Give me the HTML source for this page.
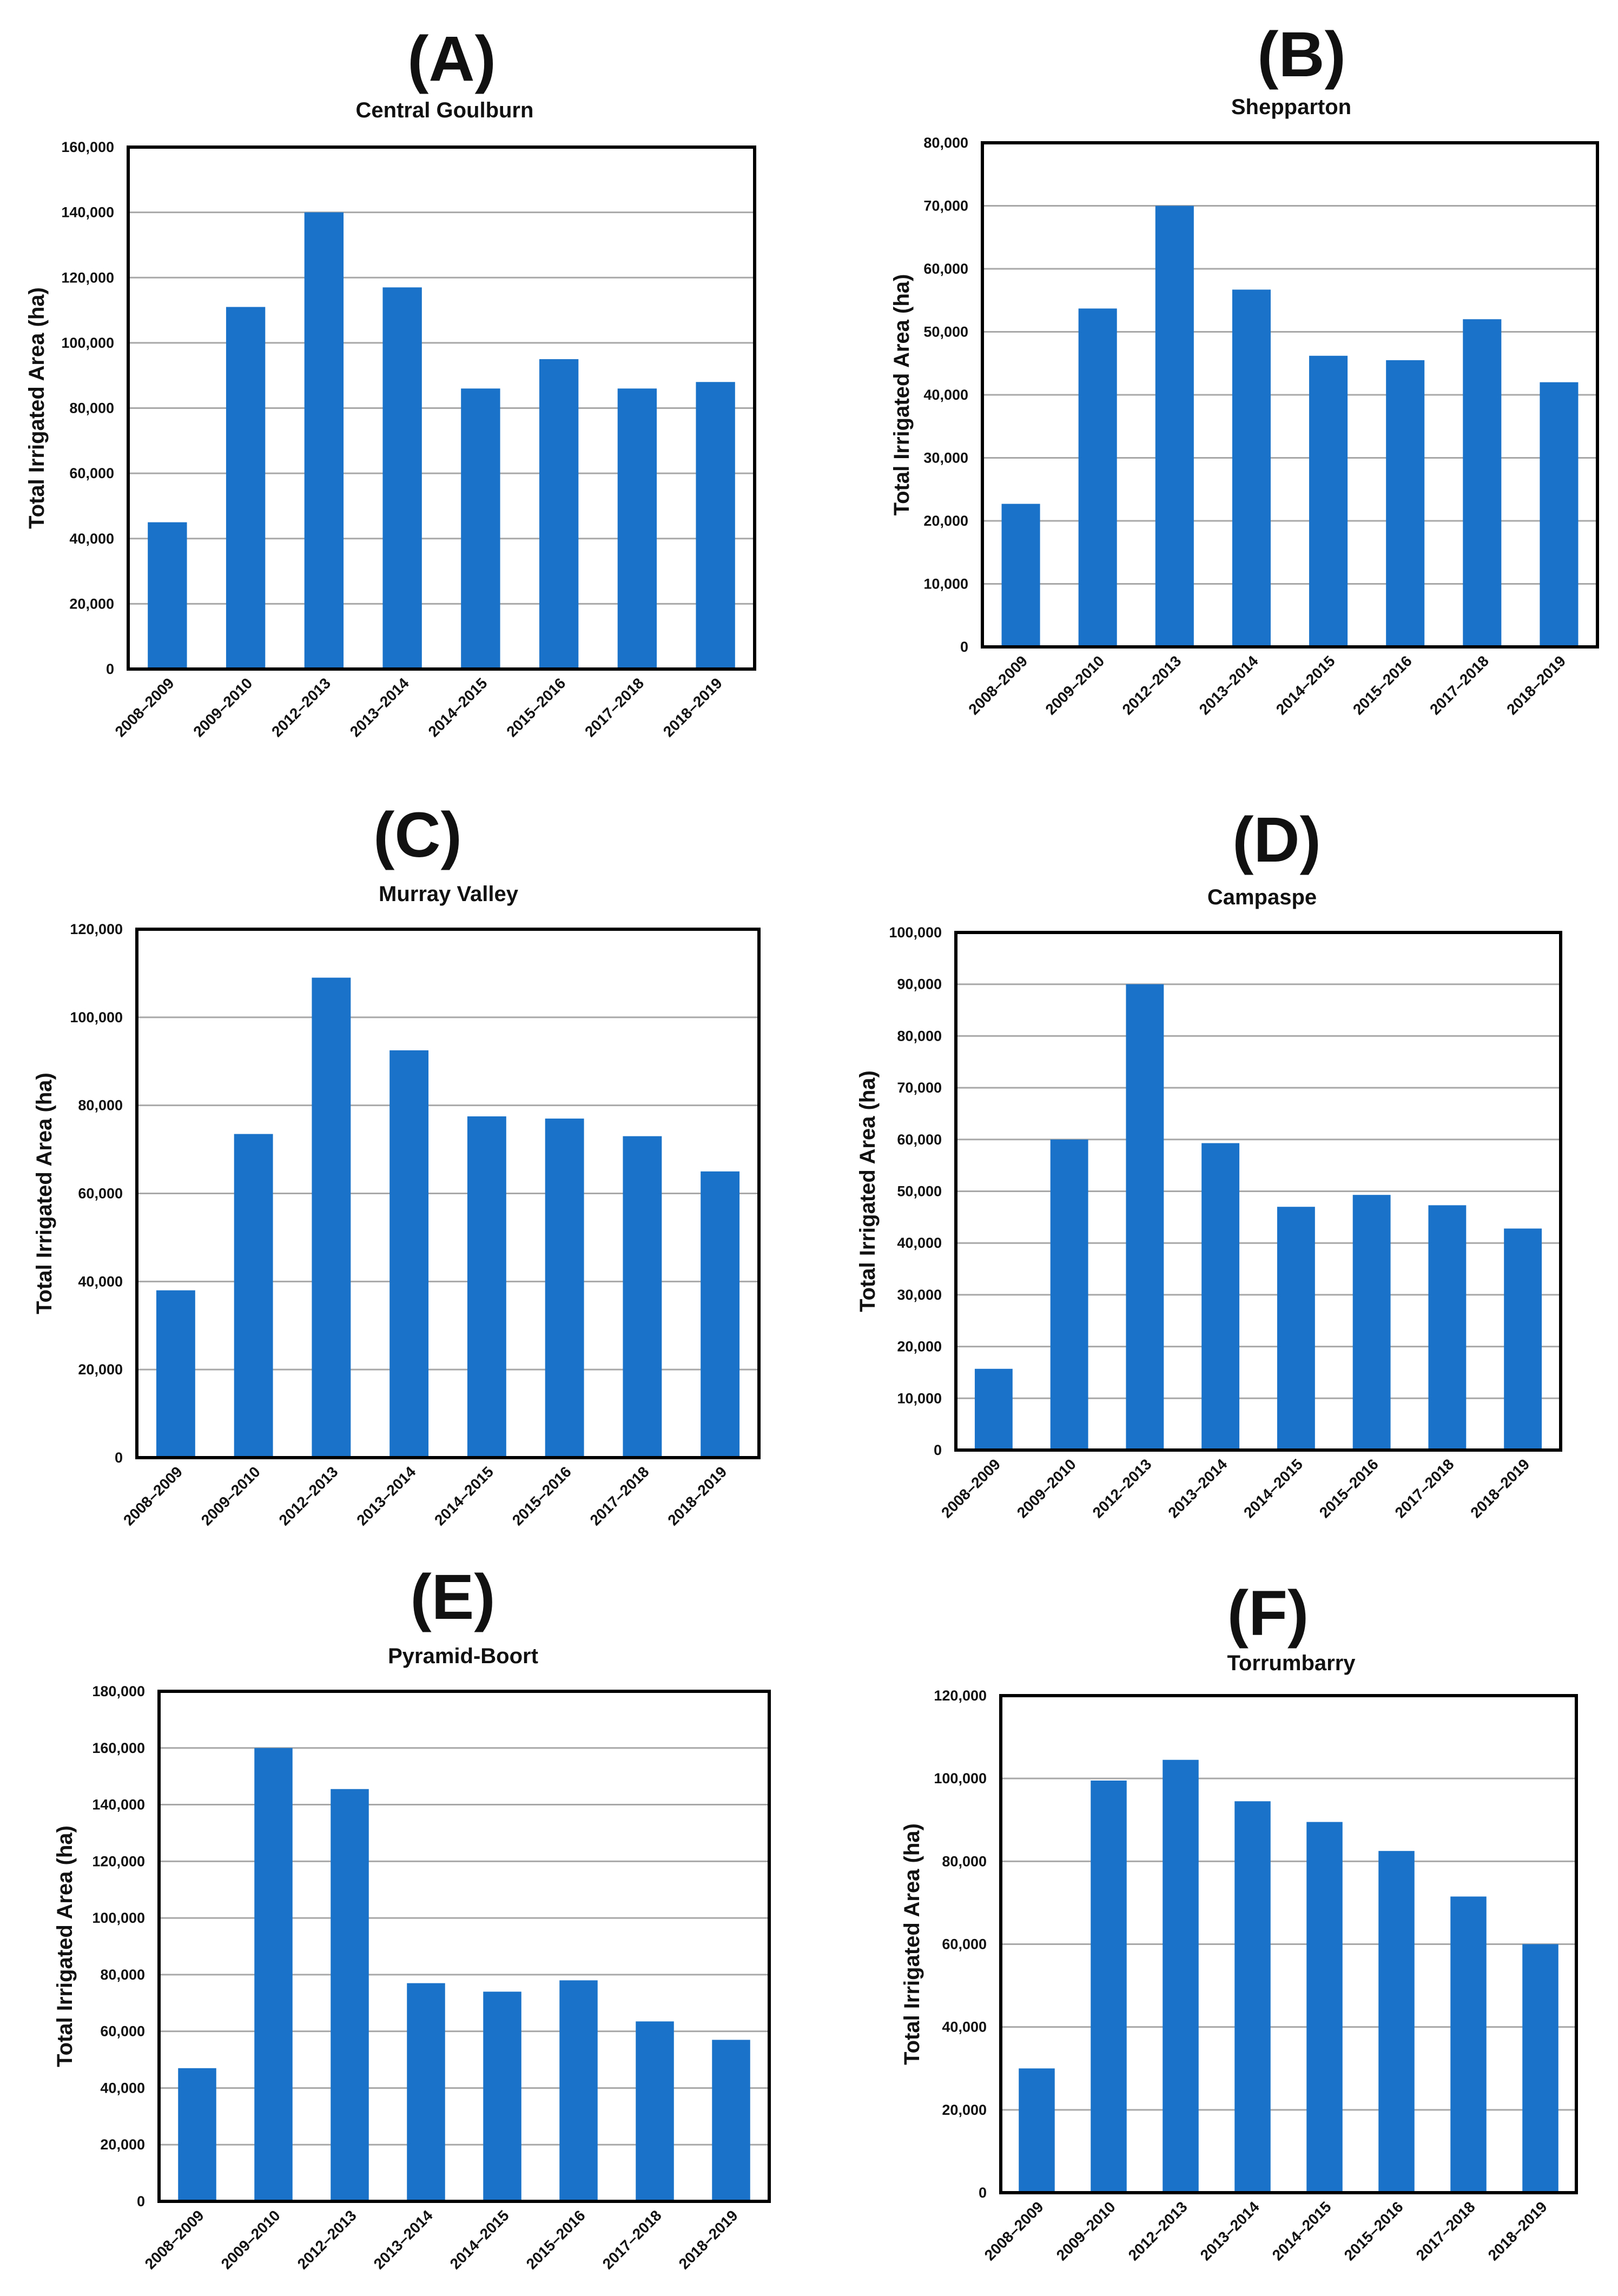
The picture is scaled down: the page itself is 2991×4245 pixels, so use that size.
<!DOCTYPE html>
<html><head><meta charset="utf-8">
<style>
html,body{margin:0;padding:0;background:#fff;}
svg{display:block;}
text{font-family:"Liberation Sans",Arial,sans-serif;font-weight:bold;fill:#111;}
</style></head>
<body>
<svg id="fig" width="2991" height="4245" viewBox="0 0 2991 4245" xmlns="http://www.w3.org/2000/svg"></svg>
<script>
const categories = ["2008–2009","2009–2010","2012–2013","2013–2014","2014–2015","2015–2016","2017–2018","2018–2019"];
const valuesA = [45000,111000,140000,117000,86000,95000,86000,88000];
const valuesB = [22700,53700,70000,56700,46200,45500,52000,42000];
const valuesC = [38000,73500,109000,92500,77500,77000,73000,65000];
const valuesD = [15700,60000,90000,59300,47000,49300,47300,42800];
const valuesE = [47000,160000,145500,77000,74000,78000,63500,57000];
const valuesF = [30000,99500,104500,94500,89500,82500,71500,60000];
const ticksA = ["0","20,000","40,000","60,000","80,000","100,000","120,000","140,000","160,000"];
const ticksB = ["0","10,000","20,000","30,000","40,000","50,000","60,000","70,000","80,000"];
const ticksC = ["0","20,000","40,000","60,000","80,000","100,000","120,000"];
const ticksD = ["0","10,000","20,000","30,000","40,000","50,000","60,000","70,000","80,000","90,000","100,000"];
const ticksE = ["0","20,000","40,000","60,000","80,000","100,000","120,000","140,000","160,000","180,000"];
const ticksF = ["0","20,000","40,000","60,000","80,000","100,000","120,000"];
const tickValuesA = [0,20000,40000,60000,80000,100000,120000,140000,160000];
const tickValuesB = [0,10000,20000,30000,40000,50000,60000,70000,80000];
const tickValuesC = [0,20000,40000,60000,80000,100000,120000];
const tickValuesD = [0,10000,20000,30000,40000,50000,60000,70000,80000,90000,100000];
const tickValuesE = [0,20000,40000,60000,80000,100000,120000,140000,160000,180000];
const tickValuesF = [0,20000,40000,60000,80000,100000,120000];

const NS="http://www.w3.org/2000/svg";
const svg=document.getElementById('fig');
function mk(tag,attrs,parent){const e=document.createElementNS(NS,tag);for(const k in attrs)e.setAttribute(k,attrs[k]);(parent||svg).appendChild(e);return e;}

const panels=[
 {id:"a",letter:"(A)",name:"Central Goulburn",vals:valuesA,ticks:ticksA,tv:tickValuesA,x0:237,x1:1395,y0:272,y1:1237,tcx:835,ty:109,scx:822,sy:204,ytx:68},
 {id:"b",letter:"(B)",name:"Shepparton",vals:valuesB,ticks:ticksB,tv:tickValuesB,x0:1816,x1:2953,y0:264,y1:1196,tcx:2406,ty:101,scx:2387,sy:198,ytx:1667},
 {id:"c",letter:"(C)",name:"Murray Valley",vals:valuesC,ticks:ticksC,tv:tickValuesC,x0:253,x1:1403,y0:1718,y1:2695,tcx:772,ty:1544,scx:829,sy:1653,ytx:82},
 {id:"d",letter:"(D)",name:"Campaspe",vals:valuesD,ticks:ticksD,tv:tickValuesD,x0:1767,x1:2885,y0:1724,y1:2681,tcx:2360,ty:1553,scx:2333,sy:1659,ytx:1604},
 {id:"e",letter:"(E)",name:"Pyramid-Boort",vals:valuesE,ticks:ticksE,tv:tickValuesE,x0:294,x1:1422,y0:3127,y1:4070,tcx:837,ty:2953,scx:856,sy:3062,ytx:120},
 {id:"f",letter:"(F)",name:"Torrumbarry",vals:valuesF,ticks:ticksF,tv:tickValuesF,x0:1850,x1:2914,y0:3135,y1:4054,tcx:2344,ty:2983,scx:2387,sy:3075,ytx:1686}
];

panels.forEach(p=>{
  const g=mk('g',{});
  
  
  const ymax=p.tv[p.tv.length-1];
  const yScale=v=>p.y1-(v/ymax)*(p.y1-p.y0);
  const slot=(p.x1-p.x0)/categories.length;
  const xCenter=i=>p.x0+slot*(i+0.5);

  const t=mk('text',{x:p.tcx,y:p.ty,'font-size':118,'text-anchor':'middle','dominant-baseline':'central'},g);
  t.textContent=p.letter;
  
  
  const s=mk('text',{x:p.scx,y:p.sy,'font-size':40,'text-anchor':'middle','dominant-baseline':'central'},g);
  s.textContent=p.name;
  
  

  p.tv.forEach((v,i)=>{
    const y=yScale(v);
    if(i>0&&i<p.tv.length-1){
      const gl=mk('line',{x1:p.x0,x2:p.x1,y1:y,y2:y,stroke:'#a8a8a8','stroke-width':3},g);
      
      
    }
    const tl=mk('text',{x:p.x0-26,y:y,'font-size':27,'text-anchor':'end','dominant-baseline':'central'},g);
    tl.textContent=p.ticks[i];
    
    
  });

  p.vals.forEach((v,i)=>{
    const w=slot*0.5;
    const y=yScale(v);
    const r=mk('rect',{x:xCenter(i)-w/2,y:y,width:w,height:p.y1-y,fill:'#1a73c9'},g);
    
    
    const xl=mk('text',{'font-size':28,'text-anchor':'end',transform:`translate(${xCenter(i)+14},${p.y1+28}) rotate(-45)`},g);
    xl.textContent=categories[i];
    
    
  });

  const fr=mk('rect',{x:p.x0,y:p.y0,width:p.x1-p.x0,height:p.y1-p.y0,fill:'none',stroke:'#000','stroke-width':6},g);
  
  

  const cy=(p.y0+p.y1)/2;
  const yt=mk('text',{x:p.ytx,y:cy,'font-size':40,'text-anchor':'middle','dominant-baseline':'central',transform:`rotate(-90 ${p.ytx} ${cy})`},g);
  yt.textContent='Total Irrigated Area (ha)';
  
  
});
</script>
</body></html>
